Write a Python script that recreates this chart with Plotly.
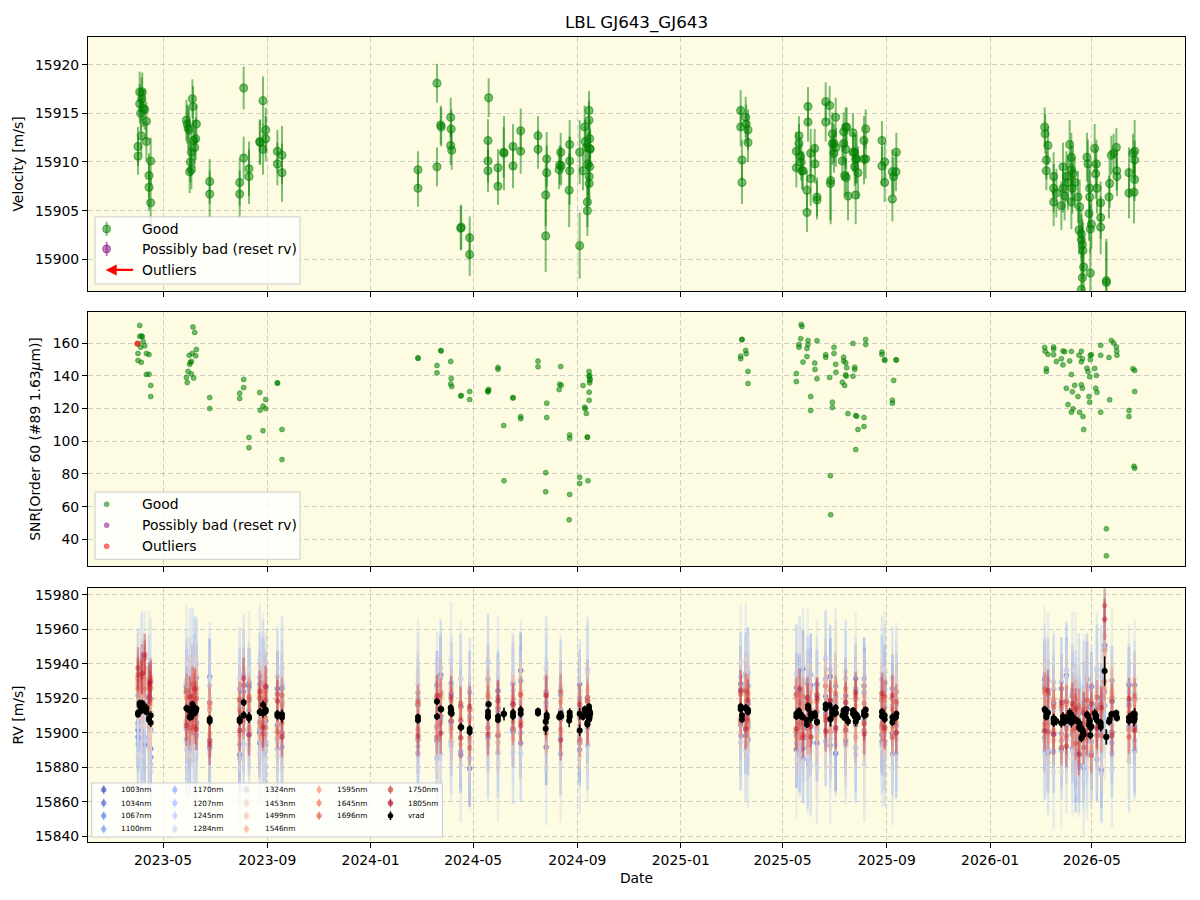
import numpy as np
import pandas as pd
import plotly.graph_objects as go

# ---------------- data (MJD dates, velocities in m/s) ----------------
obs_mjd = [
    60035.5, 60035.5, 60037.5, 60037.5, 60038.7, 60039.3, 60039.9, 60040.5, 60041.6, 60043.4, 60045.4, 60045.4, 60050.5, 60048.5, 60048.5, 60050.5,
    60092.6, 60093.6, 60094.7, 60095.9, 60099.7, 60100.4, 60104.4, 60103.6, 60102.4, 60098.5, 60097.3, 60096.5, 60098.5, 60101.2,
    60120.1, 60120.1,
    60155.5, 60155.5, 60160.2, 60160.2, 60166.5, 60166.5,
    60179.1, 60179.7, 60183.0, 60183.0, 60186.2, 60186.2,
    60200.0, 60200.0, 60205.4, 60205.4,
    60365.9, 60365.9, 60388.3, 60388.3, 60392.7, 60393.3, 60404.5, 60405.1, 60404.5, 60405.7,
    60416.3, 60416.9, 60426.9, 60426.9, 60449.3, 60448.5, 60448.5, 60448.5, 60460.3, 60460.3,
    60467.0, 60467.4, 60478.0, 60478.0, 60487.1, 60487.1, 60507.5, 60507.5, 60517.8, 60517.8,
    60516.6, 60516.6, 60534.3, 60533.1, 60532.5, 60534.9, 60544.9, 60544.9, 60544.9, 60544.3,
    60556.7, 60556.7, 60560.6, 60562.6, 60563.2, 60564.6, 60565.8, 60565.8, 60567.7, 60567.7,
    60568.5, 60568.5, 60566.5, 60568.5, 60567.9, 60567.9, 60569.1,
    60746.7, 60746.7, 60752.6, 60753.2, 60755.3, 60755.3, 60748.2, 60748.2,
    60812.4, 60812.4, 60815.5, 60815.5, 60817.5, 60818.1, 60819.0, 60820.2, 60826.1, 60826.1,
    60824.9, 60824.9, 60829.3, 60829.3, 60834.0, 60834.4, 60836.7, 60836.7, 60847.0, 60847.0,
    60851.7, 60852.5, 60852.9, 60854.9, 60854.9, 60856.8, 60856.8, 60858.8, 60859.1, 60866.7,
    60868.2, 60868.2, 60870.6, 60870.6, 60869.4, 60871.2, 60873.3, 60871.8, 60879.2, 60879.2,
    60881.2, 60881.2, 60882.4, 60882.4, 60883.6, 60885.1, 60892.2, 60892.2, 60894.2, 60894.2,
    60913.4, 60913.4, 60916.6, 60916.6, 60925.7, 60925.7, 60927.2, 60929.9, 60930.4,
    61105.4, 61106.0, 61109.3, 61107.4, 61107.4, 61116.0, 61116.0, 61116.0, 61119.2, 61125.1,
    61127.0, 61127.0, 61129.0, 61131.0, 61132.9, 61134.9, 61136.9, 61136.9, 61138.8, 61136.9,
    61140.8, 61138.1, 61144.7, 61146.7, 61145.9, 61148.7, 61148.7, 61149.9, 61150.6, 61151.4,
    61149.9, 61148.7, 61155.3, 61156.5, 61158.5, 61158.5, 61157.7, 61160.5, 61159.3, 61159.3,
    61164.4, 61166.4, 61165.6, 61167.1, 61171.5, 61171.5, 61171.5, 61178.2, 61178.2, 61181.3,
    61182.1, 61184.1, 61186.8, 61190.0, 61190.4, 61190.7, 61204.9, 61204.9, 61209.6, 61211.6,
    61211.6, 61210.8, 61211.6,
]
obs_vrad = [
    15911.6, 15910.6, 15917.2, 15916.0, 15915.0, 15912.7, 15916.5, 15917.2, 15915.5, 15915.4, 15914.2, 15912.1, 15910.1, 15908.6, 15907.4, 15905.8,
    15914.3, 15913.9, 15913.5, 15913.3, 15916.5, 15915.7, 15913.9, 15912.4, 15911.5, 15911.0, 15910.0, 15909.0, 15909.2, 15912.2,
    15908.0, 15906.7,
    15907.9, 15906.7, 15917.6, 15910.4, 15909.3, 15908.5,
    15912.1, 15912.0, 15916.3, 15911.3, 15913.3, 15912.4,
    15911.1, 15909.8, 15910.7, 15908.9,
    15909.2, 15907.3, 15918.1, 15909.5, 15913.8, 15913.6, 15914.6, 15913.4, 15911.7, 15911.2,
    15903.2, 15903.3, 15902.2, 15900.5, 15916.6, 15912.2, 15910.1, 15909.1, 15909.4, 15907.5,
    15911.0, 15910.9, 15911.6, 15909.6, 15913.2, 15911.1, 15912.7, 15911.3, 15910.3, 15908.9,
    15906.6, 15902.4, 15911.0, 15909.7, 15909.2, 15909.6, 15911.8, 15910.1, 15909.1, 15907.1,
    15911.0, 15901.4, 15909.1, 15913.6, 15912.1, 15911.5, 15905.9, 15905.0, 15915.3, 15914.3,
    15912.4, 15911.4, 15909.8, 15909.5, 15908.5, 15907.8, 15911.3,
    15915.3, 15913.6, 15914.6, 15913.9, 15913.3, 15912.0, 15910.2, 15907.9,
    15911.1, 15909.4, 15911.9, 15912.7, 15910.6, 15910.0, 15909.1, 15909.1, 15915.7, 15914.1,
    15907.1, 15904.8, 15910.9, 15908.3, 15911.4, 15909.8, 15906.4, 15906.1, 15916.2, 15914.1,
    15915.8, 15907.8, 15908.1, 15912.9, 15911.9, 15911.9, 15910.9, 15914.6, 15911.5, 15910.1,
    15913.1, 15911.9, 15913.6, 15911.3, 15908.6, 15908.4, 15906.5, 15913.6, 15913.0, 15911.0,
    15909.5, 15911.0, 15906.6, 15910.3, 15910.3, 15908.9, 15912.2, 15910.3, 15913.4, 15910.3,
    15912.2, 15909.6, 15910.0, 15907.9, 15909.0, 15906.2, 15908.5, 15909.0, 15911.0,
    15913.6, 15912.9, 15911.7, 15910.2, 15909.1, 15908.5, 15907.3, 15905.9, 15906.8, 15905.5,
    15909.5, 15907.3, 15906.5, 15908.5, 15907.9, 15911.8, 15910.5, 15909.2, 15908.8, 15905.9,
    15907.9, 15907.3, 15906.4, 15905.4, 15903.0, 15902.6, 15902.0, 15901.5, 15900.9, 15899.2,
    15898.1, 15896.9, 15910.5, 15909.8, 15907.3, 15906.4, 15904.7, 15903.6, 15903.1, 15898.6,
    15911.4, 15909.8, 15908.8, 15907.3, 15905.8, 15904.3, 15903.3, 15897.8, 15897.6, 15906.4,
    15907.8, 15910.7, 15910.9, 15911.5, 15909.1, 15908.5, 15908.9, 15906.8, 15910.9, 15910.2,
    15908.2, 15906.9, 15911.1,
]
obs_err = [
    2.0, 1.9, 2.1, 2.0, 1.8, 1.9, 2.2, 2.0, 1.9, 2.1, 2.0, 2.0, 2.4, 2.3, 2.4, 2.5,
    2.1, 2.0, 2.2, 2.1, 2.0, 2.1, 2.0, 2.2, 2.1, 2.3, 2.1, 2.2, 2.0, 2.1,
    2.3, 2.4,
    2.4, 2.4, 2.2, 2.2, 2.8, 2.8,
    2.3, 2.3, 2.5, 2.6, 2.3, 2.3,
    2.2, 2.2, 3.0, 3.0,
    1.9, 1.9, 2.0, 2.0, 2.0, 2.0, 2.0, 2.0, 2.0, 2.0,
    2.3, 2.3, 2.2, 2.2, 2.0, 2.2, 2.2, 2.2, 1.9, 1.9,
    2.6, 3.8, 2.3, 2.3, 2.3, 2.3, 2.0, 2.0, 2.8, 2.8,
    3.2, 3.7, 2.0, 2.0, 2.0, 2.0, 2.5, 2.5, 3.5, 3.8,
    3.3, 3.4, 2.0, 2.2, 2.2, 2.2, 2.6, 2.6, 2.0, 2.0,
    2.0, 2.0, 3.3, 2.0, 2.2, 2.2, 2.0,
    2.1, 2.0, 2.1, 2.0, 2.1, 2.0, 2.1, 2.2,
    2.0, 2.0, 2.0, 2.0, 2.0, 1.9, 1.9, 2.0, 2.0, 2.0,
    2.0, 2.0, 2.5, 2.8, 2.0, 2.0, 2.0, 2.0, 2.0, 2.0,
    2.0, 3.8, 4.5, 2.2, 2.2, 2.0, 2.0, 2.0, 2.0, 2.0,
    2.0, 2.0, 2.0, 2.0, 2.0, 2.0, 2.5, 2.0, 2.0, 2.0,
    2.0, 2.0, 3.0, 2.5, 2.5, 2.7, 2.5, 2.6, 2.0, 2.0,
    2.0, 2.0, 2.0, 2.0, 2.3, 2.3, 2.0, 2.0, 2.0,
    2.0, 2.0, 2.0, 2.0, 2.0, 2.5, 2.5, 2.5, 2.5, 2.5,
    2.5, 2.5, 2.5, 2.6, 2.8, 2.5, 2.5, 2.5, 2.8, 2.8,
    2.6, 2.6, 2.7, 2.8, 2.5, 2.5, 2.6, 2.6, 2.9, 3.0,
    2.5, 2.5, 2.5, 2.5, 2.5, 2.8, 2.8, 2.5, 2.5, 2.5,
    2.5, 2.5, 2.6, 2.6, 2.2, 2.2, 2.8, 4.0, 4.5, 2.2,
    2.5, 2.0, 2.0, 2.0, 2.0, 2.0, 2.6, 2.6, 2.0, 2.0,
    2.2, 3.2, 3.2,
]
obs_snr = [
    153.7, 149.4, 170.8, 164.1, 157.5, 148.3, 164.4, 163.9, 161.0, 158.4, 153.7, 140.8, 134.1, 141.0, 153.0, 127.3,
    139.0, 135.9, 142.7, 152.5, 153.7, 169.8, 156.1, 152.3, 166.5, 148.8, 148.2, 147.0, 141.1, 138.6,
    126.7, 120.0,
    129.4, 126.2, 137.8, 132.8, 102.3, 96.1,
    129.8, 119.0, 121.5, 106.5, 125.5, 120.0,
    135.7, 135.4, 107.2, 88.8,
    151.0, 150.6, 146.3, 141.8, 155.5, 155.2, 148.8, 138.4, 135.0, 133.4,
    127.7, 127.9, 130.4, 125.5, 131.7, 130.2, 131.0, 130.5, 145.1, 144.0,
    109.6, 75.9, 126.7, 126.4, 115.1, 113.8, 149.0, 145.6, 123.3, 114.5,
    80.8, 69.2, 145.7, 134.9, 131.6, 134.2, 103.9, 101.9, 67.5, 52.0,
    78.0, 74.2, 134.1, 120.8, 119.8, 117.0, 102.6, 102.4, 142.6, 139.7,
    137.1, 135.7, 75.9, 140.2, 130.0, 125.0, 138.0,
    152.0, 150.4, 155.5, 153.5, 142.7, 135.3, 162.3, 162.0,
    141.4, 136.5, 159.1, 157.5, 162.7, 171.4, 170.2, 148.4, 161.6, 159.1,
    156.7, 151.8, 127.3, 118.8, 147.8, 143.9, 161.4, 138.2, 152.8, 151.3,
    139.0, 79.0, 55.1, 123.9, 120.6, 157.4, 153.7, 147.0, 142.2, 136.1,
    151.4, 149.1, 148.0, 140.6, 134.1, 139.8, 116.9, 145.0, 159.8, 139.8,
    145.3, 143.9, 94.9, 115.7, 115.3, 107.2, 114.5, 109.0, 162.2, 159.2,
    154.5, 153.0, 149.8, 149.5, 125.1, 123.3, 137.2, 149.8, 149.6,
    157.3, 155.0, 153.1, 144.3, 142.7, 157.6, 156.3, 152.9, 148.7, 150.5,
    146.7, 155.2, 154.7, 132.4, 122.4, 149.1, 154.9, 140.8, 119.8, 117.8,
    134.2, 130.3, 127.3, 117.7, 152.6, 155.0, 134.5, 132.4, 115.1, 107.2,
    150.5, 148.6, 144.6, 142.6, 139.5, 123.9, 127.3, 152.9, 149.9, 152.5,
    144.5, 140.2, 132.4, 129.9, 158.6, 152.5, 117.8, 46.5, 30.0, 151.2,
    125.3, 161.6, 160.0, 157.7, 155.1, 152.5, 118.8, 115.1, 144.3, 143.3,
    130.4, 84.7, 83.5,
]

# outliers
outlier_mjd = [61176.2]
outlier_vrad = [15935.8]
outlier_err = [8.5]
snr_outlier_mjd = [60035.0]
snr_outlier = [159.6]

# per-band (per-wavelength) velocities: epochs, reference velocity, deviations
band_mjd = [
    60035.5, 60039.9, 60043.4, 60048.5, 60050.5,
    60092.6, 60096.5, 60099.7, 60102.4, 60104.4,
    60120.1,
    60155.5, 60160.2, 60166.5,
    60179.1, 60183.0, 60186.2,
    60200.0, 60205.4,
    60365.9, 60388.3, 60392.7, 60405.0, 60416.3, 60426.9, 60448.5, 60460.3, 60478.0, 60487.1, 60517.1, 60534.3, 60556.7, 60566.0,
    60746.7, 60752.6, 60755.3,
    60812.4, 60816.3, 60820.2, 60825.7, 60829.3, 60836.7, 60847.0, 60852.3, 60858.8, 60870.6, 60882.4, 60892.4,
    60913.4, 60916.6, 60925.7, 60930.2,
    61105.4, 61109.3, 61116.0, 61125.1, 61131.0, 61138.1, 61142.0, 61145.9, 61151.4, 61155.3, 61160.5, 61167.1, 61172.3, 61176.2, 61184.8, 61204.9, 61211.6,
]
band_ref = [
    15911.6, 15916.5, 15915.4, 15908.6, 15905.8,
    15914.3, 15909.0, 15916.5, 15911.5, 15913.9,
    15907.4,
    15907.3, 15917.6, 15908.9,
    15912.1, 15911.3, 15912.8,
    15910.5, 15909.8,
    15908.2, 15909.5, 15913.7, 15912.7, 15903.2, 15901.3, 15911.0, 15908.4, 15910.6, 15912.1, 15909.6, 15909.9, 15906.2, 15910.5,
    15914.5, 15914.2, 15911.0,
    15910.3, 15911.5, 15909.1, 15910.4, 15909.6, 15908.1, 15915.1, 15910.6, 15913.0, 15911.5, 15909.5, 15911.3,
    15910.9, 15909.0, 15907.6, 15910.0,
    15913.2, 15910.5, 15907.2, 15905.5, 15908.2, 15907.0, 15905.9, 15901.5, 15899.5, 15909.0, 15902.8, 15908.6, 15904.5, 15935.8, 15910.3, 15907.8, 15909.5,
]
band_wl = [1003, 1034, 1067, 1100, 1170, 1207, 1245, 1284, 1324, 1453, 1499, 1546, 1595, 1645, 1696, 1750, 1805]
band_err = [22, 20, 20, 24, 26, 28, 30, 33, 34, 26, 20, 16, 13, 11, 11, 10, 12]

dev_1003 = [-10, 5, -22, 8, -15, 12, -18, -5, 20, -8, 25, -20, 10, 18, -12, 22, -6, 15, -10,
            8, -14, 20, -6, 12, -22, 5, 16, -9, 24, -18, 3, -12, 10, 14, -16, 6,
            -20, 12, 28, -8, 18, -14, 6, 22, -25, 10, -5, 16, -12, 20, -8, 14,
            18, -22, 10, -15, 25, -8, 12, -20, 6, 22, -14, 8, -26, 15, -10, 20, -6]
dev_1034 = [-14, 6, -8, 12, -20, 9, -12, 15, -6, 18, -16, 12, -8, 20, -18, 4, 14, -6, 16,
            -12, 18, -4, 10, -16, 8, 20, -10, 6, -18, 14, -2, 22, -8, -10, 12, -15,
            16, -6, -18, 10, -12, 20, -4, 8, 14, -16, 22, -10, 8, -14, 18, -6,
            -16, 12, -8, 20, -4, 14, -18, 10, -12, 6, 24, -10, 16, -20, 8, -6, 18]
dev_1067 = [-6, 14, -18, 10, -4, -12, 16, -8, 4, -15, 10, -14, 6, -10, 16, -8, 12, -14, 8,
            15, -6, 10, -18, 4, 12, -14, 6, -10, 18, -4, 12, -16, 8, 10, -8, 16,
            -12, 14, -6, 18, -15, 4, 12, -18, 8, -10, 16, -4, -16, 6, 12, -10,
            14, -10, 18, -6, 10, -16, 4, 12, -20, 16, -8, 6, 14, -12, 20, -4, 10]
dev_1100 = [10, -20, 6, -16, 14, -18, 8, -10, 22, -4, -12, 18, -16, 4, -10, 18, -20, 12, -18,
            -20, 10, -6, 16, -14, 22, -8, 4, 18, -12, 8, -22, 14, -4, -16, 20, -6,
            12, -22, 8, -14, 24, -6, 16, -10, 4, -18, 10, 20, -8, 16, -20, 6,
            -12, 20, -18, 8, -6, 16, -22, 4, 18, -10, 12, -24, 6, 14, -16, 10, -20]
dev_1170 = [-18, 12, -6, 22, -24, 14, -20, 8, -12, 26, 6, -22, 16, -8, 20, -14, 8, -20, 18,
            12, -24, 18, -8, 28, -16, 6, -20, 14, -4, 22, -12, 8, -18, 18, -12, 24,
            -16, 8, -24, 20, -6, 14, -20, 26, -10, 6, -18, 12, 20, -16, 8, -22,
            16, -20, 6, 24, -12, 18, -26, 10, -8, 22, -16, 28, -4, 12, -22, 8, -14]
dev_1207 = [20, -26, 10, -14, 6, -24, 18, -8, 28, -16, 20, 8, -24, 16, -6, 26, -18, 22, -12,
            -16, 8, 24, -20, 12, -6, 30, -14, 18, -24, 6, 16, -10, 26, -20, 14, -8,
            24, -18, 10, -26, 16, -8, 28, -14, 6, 20, -22, 12, -18, 26, -10, 14,
            -24, 10, 22, -16, 28, -8, 14, -20, 26, -12, 6, 18, -28, 20, -6, 16, -18]
dev_1245 = [-8, 24, -20, 14, -28, 16, -10, 26, -22, 8, -18, 24, -12, 10, -24, 14, 6, -16, 28,
            20, -12, -26, 14, -6, 24, -18, 10, -22, 6, 28, -14, 18, -8, 12, -24, 20,
            -10, 26, -16, 8, -28, 18, -6, 14, -20, 24, -12, 6, 16, -22, 24, -14,
            20, -28, 12, -10, 24, -18, 8, 26, -14, -22, 16, -6, 28, -20, 10, -24, 14]
dev_1284 = [16, -30, 22, -10, 28, -20, 30, -14, 10, -26, 24, -28, 18, -16, 30, -20, 12, -24, 20,
            -28, 16, -12, 30, -22, 8, -18, 26, -8, 20, -30, 14, -20, 24, -14, 28, -22,
            20, -16, 30, -24, 10, -28, 22, -12, 26, -20, 14, -30, 24, -10, -28, 18,
            -18, 26, -30, 14, -22, 30, -10, 20, -26, 16, -14, 28, -24, 10, -32, 22, -16]
dev_1324 = [-24, 18, -12, 28, -6, 26, -22, 12, -30, 20, -20, 14, -26, 28, -16, 24, -28, 18, -22,
            24, -30, 10, -18, 28, -12, 20, -26, 14, -6, 22, -28, 8, -16, 26, -18, 12,
            -26, 16, -12, 28, -20, 24, -8, -30, 18, -14, 26, -22, -20, 28, -12, 20,
            26, -14, 18, -28, 12, -22, 30, -16, 24, -26, 14, -10, 20, -30, 28, -12, 22]
dev_1453 = [20, -12, 16, -18, 10, -14, 20, -6, 16, -20, 14, -12, 20, -18, 10, -16, 20, -14, 12,
            16, -10, -20, 14, -6, 18, -16, 8, 20, -12, 4, -18, 16, -8, -14, 16, -10,
            18, -12, 20, -16, 8, -20, 14, -6, 22, -14, 10, -18, 12, -18, 16, -8,
            -16, 20, -10, 14, -20, 18, -8, 16, -14, 22, -18, 10, -12, 20, -6, 14, -16]
dev_1499 = [14, -8, 18, -12, 6, -10, 16, -14, 8, 12, -10, 12, -16, 8, -14, 10, 16, 8, -12,
            -12, 14, 6, -16, 10, -8, 16, -14, 4, 12, -10, 18, -6, 10, 12, -10, 14,
            -14, 10, -8, 16, -12, 6, -16, 14, -6, 12, -10, 16, 10, -14, 8, -12,
            12, -16, 14, -8, 18, -12, 10, -18, 6, 16, -10, 14, -14, 8, 12, -6, 16]
dev_1546 = [16, 6, 20, -4, 12, 8, -12, 14, -6, 10, 6, -10, 12, -8, 14, -6, 10, -12, 8,
            10, -8, 14, -12, 6, 12, -10, 8, -14, 12, -6, 10, -12, 14, -8, 12, -6,
            10, -14, 8, -6, 14, -10, 12, -8, 16, -12, 6, -10, -10, 12, -6, 14,
            10, -12, 8, 14, -10, 6, -14, 12, 4, -8, 16, -12, 10, -6, 12, -10, 8]
dev_1595 = [18, 10, 22, 4, 14, -6, 10, -10, 12, 6, -8, 10, -6, 12, -8, 12, -4, 10, -10,
            -8, 10, -4, 12, -10, 6, 12, -8, 10, -6, 14, -10, 6, -4, 8, -10, 10,
            -8, 12, -10, 6, -12, 10, -6, 14, -4, 8, -12, 10, 8, -6, 12, -10,
            -10, 8, -12, 10, -6, 14, -8, 12, -4, 10, -12, 6, 8, -10, 14, -6, 10]
dev_1645 = [20, 12, 16, 8, 22, 6, -8, 10, -4, 12, 8, -8, 10, -6, 10, -6, 12, -8, 6,
            8, -6, 10, -10, 4, 12, -8, 6, -4, 10, -10, 8, 12, -6, -6, 10, -8,
            10, -8, 6, -12, 8, -4, 12, -10, 6, -8, 10, -6, -8, 10, -4, 8,
            10, -6, 12, -10, 8, -4, 14, -8, 6, -12, 10, -6, 8, 12, -10, 4, -8]
dev_1696 = [14, 24, 10, 18, 26, -8, 6, -4, 12, -10, 10, 6, -10, 12, -6, 8, -10, 12, -4,
            -6, 10, -8, 6, 12, -4, 10, -10, 8, -6, 12, -8, 4, 10, 8, -6, 12,
            -10, 6, 12, -8, 4, 10, -6, 8, -12, 14, -4, 6, 10, -8, 6, -4,
            -8, 12, -6, 10, -10, 8, 6, -12, 14, -4, 8, -10, 12, -6, 10, 8, -4]
dev_1750 = [22, 16, 28, 12, 20, 10, -6, 12, -8, 6, -12, 12, -8, 10, 8, -12, 6, -10, 12,
            10, -12, 8, -6, 14, -10, 6, 12, -8, 10, -4, 14, -10, 8, -8, 10, -4,
            12, -6, -10, 8, -12, 14, -8, 6, 10, -10, 12, -6, -6, 12, -10, 8,
            12, -10, 8, -14, 10, -6, -12, 14, -8, 10, -16, 12, -6, 38, 8, -10, 12]
dev_1805 = [26, 18, 30, 20, 24, -10, 12, -6, 14, -12, -14, -6, 14, -10, 12, -8, 14, 8, -12,
            -10, 12, -14, 8, -6, 14, -12, 10, 6, -8, 12, -14, 10, -6, 10, -12, 8,
            -8, 14, -12, 10, -6, 12, -14, 8, -10, 6, 14, -12, 12, -6, 14, -10,
            -12, 14, -8, 12, -16, 10, 8, -14, 12, -10, 14, -6, 10, 30, -12, 12, -8]

band_dev = [dev_1003, dev_1034, dev_1067, dev_1100, dev_1170, dev_1207, dev_1245, dev_1284, dev_1324,
            dev_1453, dev_1499, dev_1546, dev_1595, dev_1645, dev_1696, dev_1750, dev_1805]

# coolwarm palette sampled at i/16
band_rgb = [(59, 76, 192), (77, 104, 215), (98, 130, 234), (119, 154, 247), (141, 176, 254),
            (163, 194, 255), (184, 208, 249), (204, 217, 238), (221, 221, 221), (236, 211, 197),
            (245, 196, 173), (247, 177, 148), (244, 154, 123), (236, 127, 99), (222, 96, 77),
            (203, 62, 56), (180, 4, 38)]

# ---------------- helpers ----------------
MJD0 = pd.Timestamp("1858-11-17")


def to_dt(m):
    return list(MJD0 + pd.to_timedelta(np.asarray(m, dtype=float), unit="D"))


def rgba(c, a):
    return f"rgba({c[0]},{c[1]},{c[2]},{a})"


n = min(len(obs_mjd), len(obs_vrad), len(obs_err), len(obs_snr))
t_obs = to_dt(obs_mjd[:n])
v_obs = obs_vrad[:n]
e_obs = obs_err[:n]
s_obs = obs_snr[:n]

FONT = "DejaVu Sans"
GREEN = rgba((0, 128, 0), 0.5)
PURPLE = rgba((128, 0, 128), 0.5)
RED = rgba((255, 0, 0), 0.55)

fig = go.Figure()

# ---- top panel: velocity ----
fig.add_trace(go.Scatter(
    x=t_obs, y=v_obs, mode="markers", xaxis="x", yaxis="y",
    marker=dict(size=8, color=GREEN, line=dict(width=1.2, color=GREEN)),
    error_y=dict(type="data", array=e_obs, color=GREEN, thickness=2, width=0),
    showlegend=False, hoverinfo="skip"))

# ---- middle panel: SNR ----
fig.add_trace(go.Scatter(
    x=to_dt(snr_outlier_mjd), y=snr_outlier, mode="markers", xaxis="x2", yaxis="y2",
    marker=dict(size=5.5, color=rgba((230, 20, 0), 0.8), line=dict(width=0.8, color=rgba((200, 20, 0), 0.8))),
    showlegend=False, hoverinfo="skip"))
fig.add_trace(go.Scatter(
    x=t_obs, y=s_obs, mode="markers", xaxis="x2", yaxis="y2",
    marker=dict(size=5, color=rgba((0, 128, 0), 0.55), line=dict(width=0.8, color=rgba((0, 128, 0), 0.55))),
    showlegend=False, hoverinfo="skip"))

# ---- bottom panel: per-band RV ----
t_band = to_dt(band_mjd)
for bi, (wl, dev, err, col) in enumerate(zip(band_wl, band_dev, band_err, band_rgb)):
    m = min(len(dev), len(band_ref))
    yv = [band_ref[i] + dev[i] for i in range(m)]
    ma = 0.6 if bi < 9 else 0.42
    ea = 0.5 if bi < 9 else 0.32
    fig.add_trace(go.Scatter(
        x=t_band[:m], y=yv, mode="markers", xaxis="x3", yaxis="y3",
        marker=dict(size=5.5, color=rgba(col, ma), line=dict(width=0)),
        error_y=dict(type="constant", value=err, color=rgba(col, ea), thickness=2.4, width=0),
        name=f"{wl}nm", showlegend=False, hoverinfo="skip"))

t_all = t_obs + to_dt(outlier_mjd)
v_all = v_obs + outlier_vrad
e_all = e_obs + outlier_err
fig.add_trace(go.Scatter(
    x=t_all, y=v_all, mode="markers", xaxis="x3", yaxis="y3",
    marker=dict(size=6, color="black"),
    error_y=dict(type="data", array=e_all, color="black", thickness=1.5, width=0),
    name="vrad", showlegend=False, hoverinfo="skip"))

# ---------------- custom legends (axes-fraction overlays) ----------------
annotations = []


def legend_box(xa, ya, x0, x1, y0, y1):
    fig.add_trace(go.Scatter(
        x=[x0, x1, x1, x0, x0], y=[y0, y0, y1, y1, y0], mode="lines", fill="toself",
        fillcolor="rgba(255,255,255,0.8)", line=dict(color="#cccccc", width=1),
        xaxis=xa, yaxis=ya, showlegend=False, hoverinfo="skip"))


def legend_marker(xa, ya, x, y, color, size, ebar):
    fig.add_trace(go.Scatter(
        x=[x], y=[y], mode="markers", xaxis=xa, yaxis=ya,
        marker=dict(size=size, color=color, line=dict(width=1 if size > 6 else 0.6, color=color)),
        error_y=dict(type="constant", value=ebar, color=color, thickness=2 if size > 6 else 1.6, width=0)
        if ebar else None,
        showlegend=False, hoverinfo="skip"))


def legend_text(xr, yr, x, y, text, size):
    annotations.append(dict(x=x, y=y, xref=xr, yref=yr, text=text, showarrow=False,
                            xanchor="left", yanchor="middle",
                            font=dict(family=FONT, size=size, color="black")))


# top legend
legend_box("x4", "y4", 0.0064, 0.1933, 0.0276, 0.2917)
legend_marker("x4", "y4", 0.0170, 0.2444, GREEN, 8, 0.028)
legend_marker("x4", "y4", 0.0170, 0.1655, PURPLE, 8, 0.028)
legend_text("x4", "y4", 0.0471, 0.2444, "Good", 13.9)
legend_text("x4", "y4", 0.0471, 0.1655, "Possibly bad (reset rv)", 13.9)
legend_text("x4", "y4", 0.0471, 0.0828, "Outliers", 13.9)
annotations.append(dict(x=0.0161, y=0.0828, xref="x4", yref="y4", ax=29, ay=0,
                        axref="pixel", ayref="pixel", text="", showarrow=True,
                        arrowhead=2, arrowsize=1, arrowwidth=2.2, arrowcolor="red"))

# middle legend
legend_box("x5", "y5", 0.0064, 0.1933, 0.0264, 0.2908)
legend_marker("x5", "y5", 0.0170, 0.2431, rgba((0, 128, 0), 0.55), 5, None)
legend_marker("x5", "y5", 0.0170, 0.1602, PURPLE, 5, None)
legend_marker("x5", "y5", 0.0170, 0.0777, RED, 5, None)
legend_text("x5", "y5", 0.0471, 0.2431, "Good", 13.9)
legend_text("x5", "y5", 0.0471, 0.1602, "Possibly bad (reset rv)", 13.9)
legend_text("x5", "y5", 0.0471, 0.0777, "Outliers", 13.9)

# bottom legend (5 columns: 4,4,4,3,3 entries)
legend_box("x6", "y6", 0.0034, 0.3232, 0.0197, 0.2323)
rows_y = [0.2059, 0.1535, 0.1035, 0.0512]
col_mx = [0.0143, 0.0791, 0.1444, 0.2106, 0.2757]
col_tx = [0.0283, 0.0936, 0.1593, 0.2250, 0.2897]
col_counts = [4, 4, 4, 3, 3]
labels = [f"{w}nm" for w in band_wl] + ["vrad"]
colors = [rgba(c, 0.6) for c in band_rgb] + ["black"]
k = 0
for ci, cnt in enumerate(col_counts):
    for ri in range(cnt):
        legend_marker("x6", "y6", col_mx[ci], rows_y[ri], colors[k], 5, 0.017)
        legend_text("x6", "y6", col_tx[ci], rows_y[ri], labels[k], 7.3)
        k += 1

# outlier arrow in the velocity panel
annotations.append(dict(x=to_dt(outlier_mjd)[0], y=15923.8, xref="x", yref="y",
                        ax=0, ay=33, axref="pixel", ayref="pixel", text="", showarrow=True,
                        arrowhead=2, arrowsize=1, arrowwidth=2.2, arrowcolor="red"))

# ---------------- layout ----------------
xrange_ = [to_dt([59976.5])[0], to_dt([61271.0])[0]]
grid = dict(showgrid=True, gridcolor="rgba(170,170,170,0.55)", griddash="5px,3px", gridwidth=1)
axis_common = dict(showline=True, linecolor="black", linewidth=1, mirror=True, ticks="outside",
                   ticklen=5, tickwidth=1, tickcolor="black", zeroline=False, automargin=False,
                   tickfont=dict(family=FONT, size=13.9, color="black"), **grid)
xcommon = dict(type="date", range=xrange_, dtick="M4", tick0="2023-01-01", tickformat="%Y-%m", **axis_common)
hidden = dict(visible=False, range=[0, 1], showgrid=False, zeroline=False, fixedrange=True)

fig.update_layout(
    width=1200, height=900,
    margin=dict(l=88, r=15, t=37, b=58, autoexpand=False),
    paper_bgcolor="white", plot_bgcolor="#fdfce3",
    font=dict(family=FONT, size=13.9, color="black"),
    showlegend=False,
    title=dict(text="LBL GJ643_GJ643", x=0.5, xref="paper", xanchor="center",
               y=1 - 22 / 900, yref="container", yanchor="middle",
               font=dict(family=FONT, size=16.7, color="black")),
    xaxis=dict(anchor="y", showticklabels=False, **xcommon),
    xaxis2=dict(anchor="y2", showticklabels=False, **xcommon),
    xaxis3=dict(anchor="y3", title=dict(text="Date", standoff=6, font=dict(family=FONT, size=13.9)), **xcommon),
    yaxis=dict(domain=[0.6845, 1.0], anchor="x", range=[15896.74, 15922.85], dtick=5, tick0=15900,
               tickformat="d",
               title=dict(text="Velocity [m/s]", standoff=8, font=dict(family=FONT, size=13.9)), **axis_common),
    yaxis2=dict(domain=[0.3429, 0.6584], anchor="x2", range=[23.8, 179.0], dtick=20, tick0=0,
                tickformat="d",
                title=dict(text="SNR[Order 60 (#89 1.63<i>μ</i>m)]", standoff=8, font=dict(family=FONT, size=13.9)),
                **axis_common),
    yaxis3=dict(domain=[0.0, 0.3155], anchor="x3", range=[15836.75, 15983.9], dtick=20, tick0=15840,
                tickformat="d",
                title=dict(text="RV [m/s]", standoff=8, font=dict(family=FONT, size=13.9)), **axis_common),
    xaxis4=dict(overlaying="x", anchor="y4", **hidden),
    yaxis4=dict(overlaying="y", anchor="x4", **hidden),
    xaxis5=dict(overlaying="x2", anchor="y5", **hidden),
    yaxis5=dict(overlaying="y2", anchor="x5", **hidden),
    xaxis6=dict(overlaying="x3", anchor="y6", **hidden),
    yaxis6=dict(overlaying="y3", anchor="x6", **hidden),
    annotations=annotations,
)

fig.write_html("out.html")
